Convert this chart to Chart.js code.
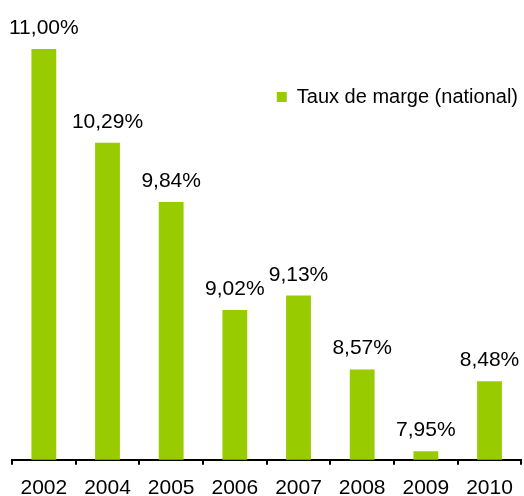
<!DOCTYPE html>
<html>
<head>
<meta charset="utf-8">
<script src="https://cdn.jsdelivr.net/npm/chart.js@4/dist/chart.umd.min.js"></script>
<style>
  html, body { margin: 0; padding: 0; background: #fff; }
  #wrap { width: 524px; height: 496px; }
</style>
</head>
<body>
<div id="wrap"><canvas id="chart"></canvas></div>
<script>
const years = ['2002', '2004', '2005', '2006', '2007', '2008', '2009', '2010'];
const margins = [11.00, 10.29, 9.84, 9.02, 9.13, 8.57, 7.95, 8.48];
const seriesName = 'Taux de marge (national)';

const FONT = "'Liberation Sans', Arial, sans-serif";
const GREEN = '#99cc00';

// French number format for the value labels, e.g. 11,00%
const fmt = v => v.toFixed(2).replace('.', ',') + '%';

// Value labels above each bar
const barLabels = {
  id: 'barLabels',
  afterDatasetsDraw(chart) {
    const ctx = chart.ctx;
    const meta = chart.getDatasetMeta(0);
    ctx.save();
    ctx.font = '21px ' + FONT;
    ctx.fillStyle = '#000';
    ctx.textAlign = 'center';
    ctx.textBaseline = 'alphabetic';
    meta.data.forEach((bar, i) => {
      ctx.fillText(fmt(margins[i]), bar.x, bar.y - 15);
    });
    ctx.restore();
  }
};

// Push the legend down into the plot, right side
const legendDrop = {
  id: 'legendDrop',
  afterLayout(chart) {
    const lg = chart.legend;
    const h = lg.bottom - lg.top;
    lg.top = 83;
    lg.bottom = lg.top + h;
  }
};

new Chart(document.getElementById('chart'), {
  type: 'bar',
  data: {
    labels: years,
    datasets: [{
      label: seriesName,
      data: margins,
      backgroundColor: GREEN,
      borderWidth: 0,
      barPercentage: 0.39,
      categoryPercentage: 1.0
    }]
  },
  options: {
    responsive: true,
    maintainAspectRatio: false,
    animation: false,
    layout: {
      padding: { top: 15, left: 12, right: 2, bottom: -16 }
    },
    plugins: {
      legend: {
        position: 'top',
        align: 'end',
        labels: {
          font: { family: FONT, size: 20 },
          color: '#000',
          boxWidth: 10,
          boxHeight: 10,
          padding: 4
        }
      },
      tooltip: { enabled: false }
    },
    scales: {
      x: {
        grid: {
          display: true,
          drawOnChartArea: false,
          drawTicks: true,
          tickLength: 5,
          color: '#000',
          lineWidth: 2
        },
        border: { display: true, color: '#000', width: 2 },
        ticks: {
          color: '#000',
          font: { family: FONT, size: 21 },
          padding: 11,
          maxRotation: 0
        }
      },
      y: {
        display: false,
        min: 7.885,
        max: 11
      }
    }
  },
  plugins: [barLabels, legendDrop]
});
</script>
</body>
</html>
